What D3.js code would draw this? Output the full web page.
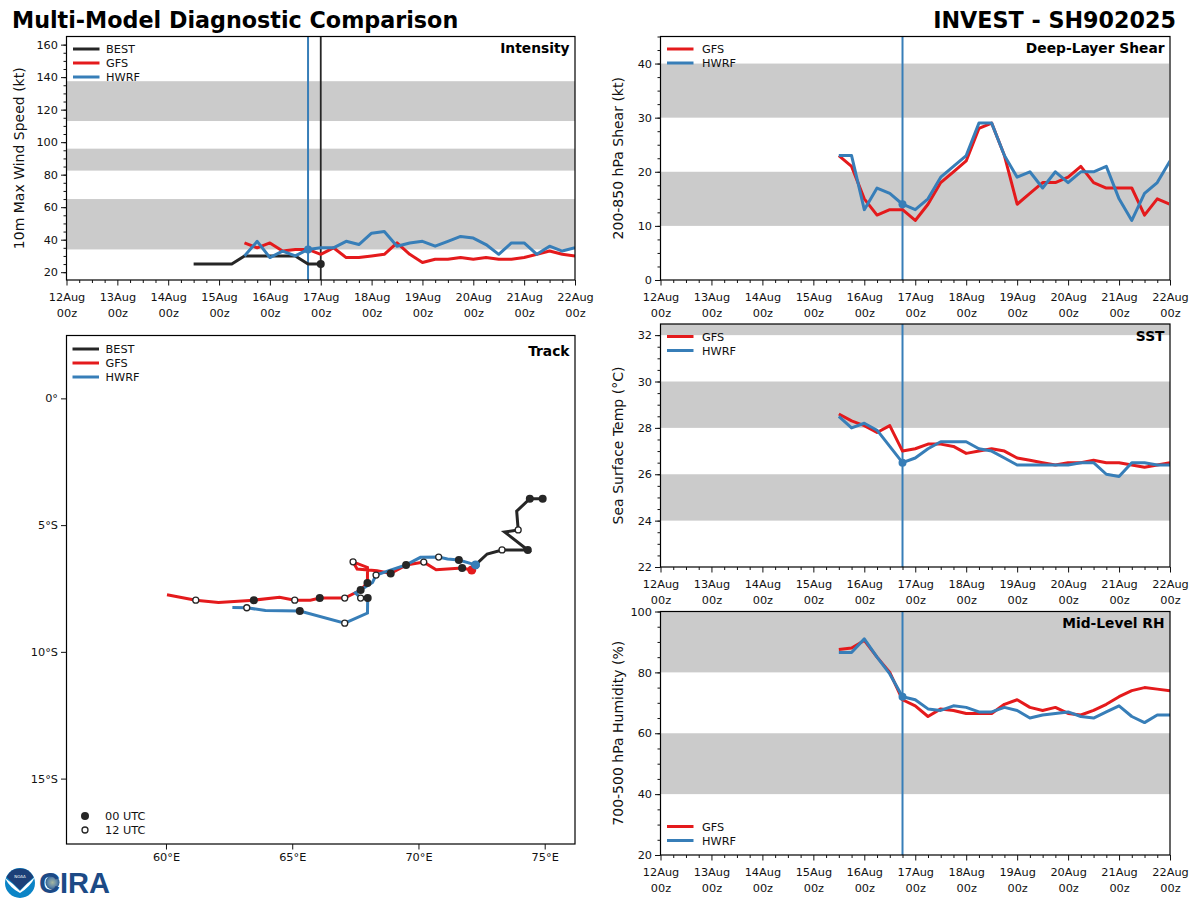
<!DOCTYPE html>
<html>
<head>
<meta charset="utf-8">
<script src="https://cdnjs.cloudflare.com/ajax/libs/d3/7.8.5/d3.min.js"></script>
<style>
body { margin: 0; background: #fff; }
text { font-family: "DejaVu Sans", sans-serif; fill: #111; }
</style>
</head>
<body>
<div id="chart"></div>
<script>
// values
var dayLabels = ["12Aug","13Aug","14Aug","15Aug","16Aug","17Aug","18Aug","19Aug","20Aug","21Aug","22Aug"];
var dayTicks = [12,13,14,15,16,17,18,19,20,21,22];
var minorDays = [12.25,12.5,12.75,13.25,13.5,13.75,14.25,14.5,14.75,15.25,15.5,15.75,16.25,16.5,16.75,17.25,17.5,17.75,18.25,18.5,18.75,19.25,19.5,19.75,20.25,20.5,20.75,21.25,21.5,21.75];
var modelDays = [15.5,15.75,16,16.25,16.5,16.75,17,17.25,17.5,17.75,18,18.25,18.5,18.75,19,19.25,19.5,19.75,20,20.25,20.5,20.75,21,21.25,21.5,21.75,22];
var bestDays = [14.5,14.75,15,15.25,15.5,15.75,16,16.25,16.5,16.75,17];
var currentDay = 16.75;
var bestDay = 17;

var bestWind = [25,25,25,25,30,30,30,30,30,25,25];
var gfsWind = [38,35,38,33,34,34,31,35,29,29,30,31,38,31,26,28,28,29,28,29,28,28,29,31,33,31,30];
var hwrfWind = [30,39,29,33,30,34,35,35,39,37,44,45,36,38,39,36,39,42,41,37,31,38,38,31,36,33,35];

var gfsShear = [23,21,15,12,13,13,11,14,18,20,22,28,29,23,14,16,18,18,19,21,18,17,17,17,12,15,14];
var hwrfShear = [23,23,13,17,16,14,13,15,19,21,23,29,29,23,19,20,17,20,18,20,20,21,15,11,16,18,22];

var gfsSst = [28.6,28.3,28.1,27.8,28.1,27.0,27.1,27.3,27.3,27.2,26.9,27.0,27.1,27.0,26.7,26.6,26.5,26.4,26.5,26.5,26.6,26.5,26.5,26.4,26.3,26.4,26.5];
var hwrfSst = [28.5,28.0,28.2,27.9,27.2,26.5,26.7,27.1,27.4,27.4,27.4,27.1,27.0,26.7,26.4,26.4,26.4,26.4,26.4,26.5,26.5,26.0,25.9,26.5,26.5,26.4,26.4];

var gfsRh = [87.5,88,90.5,85,80,71,69,65.5,68,67.5,66.5,66.5,66.5,69.5,71,68.5,67.5,68.5,66.5,66,67.5,69.5,72,74,75,74.5,74];
var hwrfRh = [86.5,86.5,91,85,79.5,72,71,68,67.5,69,68.5,67,67,68.5,67.5,65,66,66.5,67,65.5,65,67,69,65.5,63.5,66,66];

var windBands = [[34,65],[82.5,96],[113,137.5]];
var shearBands = [[10,20],[30,40]];
var sstBands = [[24,26],[28,30],[32,33]];
var rhBands = [[40,60],[80,100]];

// track: [lon, lat, mark] where mark 0 = 00 UTC, 12 = 12 UTC, null = no marker
var bestTrack = [[74.92,-3.96,0],[74.41,-3.96,0],[73.89,-4.45,null],[73.95,-5.19,12],[73.41,-5.27,null],[74.33,-5.98,0],[73.31,-5.98,12],[72.72,-6.14,null],[72.26,-6.57,0]];
var gfsTrack = [[72.11,-6.77,null],[71.73,-6.69,0],[70.70,-6.76,null],[70.21,-6.46,12],[69.52,-6.57,null],[68.90,-6.91,0],[68.36,-6.80,null],[67.57,-6.73,null],[67.41,-6.45,12],[67.98,-6.67,null],[67.98,-7.28,0],[67.71,-7.56,null],[67.08,-7.88,12],[66.09,-7.88,0],[65.72,-7.96,null],[65.10,-7.96,12],[64.50,-7.85,null],[63.48,-7.96,0],[62.08,-8.05,null],[61.18,-7.96,12],[60.04,-7.75,null]];
var hwrfTrack = [[72.26,-6.57,null],[71.60,-6.38,0],[71.15,-6.34,null],[70.80,-6.26,12],[70.08,-6.27,null],[69.51,-6.57,0],[68.32,-6.97,12],[68.18,-7.26,null],[67.71,-7.56,0],[67.50,-7.67,null],[67.71,-7.88,12],[67.99,-7.88,0],[67.98,-8.47,null],[67.08,-8.87,12],[65.30,-8.39,0],[63.94,-8.37,null],[63.20,-8.26,12],[62.63,-8.25,null]];

var lonTicks = [60,65,70,75];
var lonLabels = ["60°E","65°E","70°E","75°E"];
var latTicks = [0,-5,-10,-15];
var latLabels = ["0°","5°S","10°S","15°S"];

var BLACK = "#262626", RED = "#e41a1c", BLUE = "#377eb8", BAND = "#cbcbcb";
var LINE_W = 3;

var svg = d3.select("#chart").append("svg")
    .attr("width", 1200)
    .attr("height", 900);

svg.append("text").attr("x", 12).attr("y", 28)
    .attr("font-size", 22.25).attr("font-weight", "bold")
    .style("fill", "#000")
    .text("Multi-Model Diagnostic Comparison");
svg.append("text").attr("x", 1176).attr("y", 28).attr("text-anchor", "end")
    .attr("font-size", 22.25).attr("font-weight", "bold")
    .style("fill", "#000")
    .text("INVEST - SH902025");

function styleAxis(g) {
    g.select(".domain").remove();
    g.selectAll("line").attr("stroke", "#111").attr("stroke-width", 1);
    g.selectAll("text").attr("font-size", 11.3).style("font-family", '"DejaVu Sans", sans-serif');
}

function drawLine(g, x, y, days, vals, color) {
    var line = d3.line().x(function(d, i) { return x(days[i]); }).y(function(d) { return y(d); });
    g.append("path").datum(vals)
        .attr("fill", "none").attr("stroke", color).attr("stroke-width", LINE_W)
        .attr("stroke-linejoin", "round")
        .attr("d", line);
}

function drawLegend(g, x0, items, y0, gap) {
    items.forEach(function(it, i) {
        var yy = y0 + i * 14;
        g.append("line").attr("x1", x0).attr("x2", x0 + 26.5).attr("y1", yy).attr("y2", yy)
            .attr("stroke", it.color).attr("stroke-width", LINE_W);
        g.append("text").attr("x", x0 + gap).attr("y", yy + 4).attr("font-size", 11.3).text(it.name);
    });
}

function frame(g, w, h) {
    g.append("rect").attr("width", w).attr("height", h)
        .attr("fill", "none").attr("stroke", "#000").attr("stroke-width", 1.2);
}

function timePanel(opt) {
    var w = opt.right - opt.left, h = opt.bottom - opt.top;
    var g = svg.append("g").attr("transform", "translate(" + opt.left + "," + opt.top + ")");
    var x = d3.scaleLinear().domain([12, 22]).range([0, w]);
    var y = d3.scaleLinear().domain(opt.domain).range([h, 0]);
    var clipId = "clip" + opt.top;
    g.append("clipPath").attr("id", clipId).append("rect").attr("width", w).attr("height", h);
    var plot = g.append("g").attr("clip-path", "url(#" + clipId + ")");

    plot.selectAll(".band").data(opt.bands).enter().append("rect")
        .attr("x", 0).attr("width", w)
        .attr("y", function(d) { return y(d[1]); })
        .attr("height", function(d) { return y(d[0]) - y(d[1]); })
        .attr("fill", BAND);

    // forecast init line and markers
    plot.append("line").attr("x1", x(currentDay)).attr("x2", x(currentDay)).attr("y1", 0).attr("y2", h)
        .attr("stroke", BLUE).attr("stroke-width", 2);
    if (opt.best) {
        plot.append("line").attr("x1", x(bestDay)).attr("x2", x(bestDay)).attr("y1", 0).attr("y2", h)
            .attr("stroke", BLACK).attr("stroke-width", 1.8);
        drawLine(plot, x, y, bestDays, opt.best, BLACK);
    }
    drawLine(plot, x, y, modelDays, opt.gfs, RED);
    drawLine(plot, x, y, modelDays, opt.hwrf, BLUE);

    var idx = modelDays.indexOf(currentDay);
    plot.append("circle").attr("cx", x(currentDay)).attr("cy", y(opt.hwrf[idx])).attr("r", 4).attr("fill", BLUE);
    if (opt.best) {
        plot.append("circle").attr("cx", x(bestDay)).attr("cy", y(opt.best[opt.best.length - 1])).attr("r", 4).attr("fill", BLACK);
    }

    frame(g, w, h);

    var xAxis = g.append("g").attr("transform", "translate(0," + h + ")")
        .call(d3.axisBottom(x).tickValues(dayTicks).tickSize(5.5).tickPadding(4).tickFormat(""));
    styleAxis(xAxis);
    xAxis.selectAll(".tick text").each(function(d, i) {
        var t = d3.select(this);
        t.append("tspan").attr("x", 0).attr("dy", "1em").text(dayLabels[i]);
        t.append("tspan").attr("x", 0).attr("dy", "1.42em").text("00z");
    });
    var xMinor = g.append("g").attr("transform", "translate(0," + h + ")")
        .call(d3.axisBottom(x).tickValues(minorDays).tickSize(3).tickFormat(""));
    styleAxis(xMinor);

    var yAxis = g.append("g").call(d3.axisLeft(y).tickValues(opt.ticks).tickSize(5.5).tickPadding(3));
    styleAxis(yAxis);
    var yMinor = g.append("g").call(d3.axisLeft(y).tickValues(opt.minor).tickSize(3).tickFormat(""));
    styleAxis(yMinor);

    g.append("text").attr("transform", "translate(" + opt.labelX + "," + (h / 2) + ") rotate(-90)")
        .attr("text-anchor", "middle").attr("font-size", 14).text(opt.ylabel);
    g.append("text").attr("x", w - 5.5).attr("y", 16.5).attr("text-anchor", "end")
        .attr("font-size", 13.8).attr("font-weight", "bold").style("fill", "#000").text(opt.title);

    var items = [{name: "GFS", color: RED}, {name: "HWRF", color: BLUE}];
    if (opt.best) items.unshift({name: "BEST", color: BLACK});
    drawLegend(g, 6.5, items, opt.legendY, opt.best ? 33 : 35);
}

timePanel({left: 66.5, right: 575, top: 36.5, bottom: 280, domain: [15.2, 165],
    bands: windBands, best: bestWind, gfs: gfsWind, hwrf: hwrfWind,
    ticks: d3.range(20, 161, 20), minor: d3.range(20, 165, 5), labelX: -43,
    ylabel: "10m Max Wind Speed (kt)", title: "Intensity", legendY: 12.5});
timePanel({left: 660.5, right: 1170, top: 36.5, bottom: 280, domain: [0, 45],
    bands: shearBands, gfs: gfsShear, hwrf: hwrfShear,
    ticks: [0,10,20,30,40], minor: d3.range(0, 45.1, 2.5), labelX: -38,
    ylabel: "200-850 hPa Shear (kt)", title: "Deep-Layer Shear", legendY: 12.5});
timePanel({left: 660.5, right: 1170, top: 324, bottom: 567, domain: [22, 32.48],
    bands: sstBands, gfs: gfsSst, hwrf: hwrfSst,
    ticks: [22,24,26,28,30,32], minor: d3.range(22, 32.4, 0.5), labelX: -38,
    ylabel: "Sea Surface Temp (°C)", title: "SST", legendY: 12.5});
timePanel({left: 660.5, right: 1170, top: 611.5, bottom: 855, domain: [20, 100],
    bands: rhBands, gfs: gfsRh, hwrf: hwrfRh,
    ticks: [20,40,60,80,100], minor: d3.range(20, 100.1, 5), labelX: -38,
    ylabel: "700-500 hPa Humidity (%)", title: "Mid-Level RH", legendY: 215});

// track panel
(function() {
    var left = 66.5, right = 575, top = 335.5, bottom = 844;
    var w = right - left, h = bottom - top;
    var g = svg.append("g").attr("transform", "translate(" + left + "," + top + ")");
    var x = d3.scaleLinear().domain([56.06, 76.2]).range([0, w]);
    var y = d3.scaleLinear().domain([-17.58, 2.48]).range([h, 0]);
    var line = d3.line().x(function(d) { return x(d[0]); }).y(function(d) { return y(d[1]); });

    function track(data, color) {
        g.append("path").datum(data).attr("fill", "none").attr("stroke", color)
            .attr("stroke-width", LINE_W).attr("stroke-linejoin", "miter").attr("d", line);
    }
    var tracks = [bestTrack, gfsTrack, hwrfTrack];
    track(bestTrack, BLACK);
    track(gfsTrack, RED);
    track(hwrfTrack, BLUE);

    tracks.forEach(function(t) {
        var pts = t.filter(function(d) { return d[2] !== null; });
        g.selectAll(null).data(pts).enter().append("circle")
            .attr("cx", function(d) { return x(d[0]); })
            .attr("cy", function(d) { return y(d[1]); })
            .attr("r", function(d) { return d[2] === 0 ? 4 : 3; })
            .attr("fill", function(d) { return d[2] === 0 ? BLACK : "#fff"; })
            .attr("stroke", BLACK).attr("stroke-width", function(d) { return d[2] === 0 ? 0 : 1.3; });
    });
    // model start points
    g.append("circle").attr("cx", x(gfsTrack[0][0])).attr("cy", y(gfsTrack[0][1])).attr("r", 4.5).attr("fill", RED);
    g.append("circle").attr("cx", x(hwrfTrack[0][0])).attr("cy", y(hwrfTrack[0][1])).attr("r", 4.5).attr("fill", BLUE);

    frame(g, w, h);

    var xAxis = g.append("g").attr("transform", "translate(0," + h + ")")
        .call(d3.axisBottom(x).tickValues(lonTicks).tickSize(5.5).tickPadding(3)
            .tickFormat(function(d, i) { return lonLabels[i]; }));
    styleAxis(xAxis);
    var yAxis = g.append("g")
        .call(d3.axisLeft(y).tickValues(latTicks).tickSize(5.5).tickPadding(3)
            .tickFormat(function(d, i) { return latLabels[i]; }));
    styleAxis(yAxis);

    g.append("text").attr("x", w - 5.5).attr("y", 20).attr("text-anchor", "end")
        .attr("font-size", 13.8).attr("font-weight", "bold").style("fill", "#000").text("Track");

    drawLegend(g, 6, [{name: "BEST", color: BLACK}, {name: "GFS", color: RED}, {name: "HWRF", color: BLUE}], 13.5, 33);

    var marks = [{name: "00 UTC", fill: BLACK, sw: 0, r: 4}, {name: "12 UTC", fill: "#fff", sw: 1.3, r: 3}];
    marks.forEach(function(m, i) {
        var yy = h - 28 + i * 14;
        g.append("circle").attr("cx", 18.5).attr("cy", yy).attr("r", m.r)
            .attr("fill", m.fill).attr("stroke", BLACK).attr("stroke-width", m.sw);
        g.append("text").attr("x", 38.5).attr("y", yy + 4).attr("font-size", 11.3).text(m.name);
    });
})();

// NOAA / CIRA logo
var logo = svg.append("g");
var defs = svg.append("defs");
var earth = defs.append("radialGradient").attr("id", "earth");
earth.append("stop").attr("offset", "0%").attr("stop-color", "#a7b8a0");
earth.append("stop").attr("offset", "65%").attr("stop-color", "#5f86a8");
earth.append("stop").attr("offset", "100%").attr("stop-color", "#2e5f8f");
logo.append("circle").attr("cx", 20).attr("cy", 883).attr("r", 15).attr("fill", "#0b84c6");
logo.append("path").attr("d", "M6.5 877 A15 15 0 0 1 33.5 877 L20 890 Z").attr("fill", "#1c3f78");
logo.append("path").attr("d", "M5 878 Q14 884 20 891 Q26 884 35 877 Q30 887 20 893 Q10 888 5 878 Z").attr("fill", "#fff");
logo.append("text").attr("x", 20).attr("y", 878).attr("text-anchor", "middle")
    .attr("font-size", 4).style("fill", "#fff").text("NOAA");
logo.append("circle").attr("cx", 52.5).attr("cy", 882.5).attr("r", 7).attr("fill", "url(#earth)");
logo.append("text").attr("x", 39).attr("y", 893).attr("font-size", 30).attr("font-weight", "bold")
    .attr("textLength", 71).attr("lengthAdjust", "spacingAndGlyphs")
    .style("font-family", '"Liberation Sans", sans-serif').style("fill", "#1c4a86").text("CIRA");
</script>
</body>
</html>
